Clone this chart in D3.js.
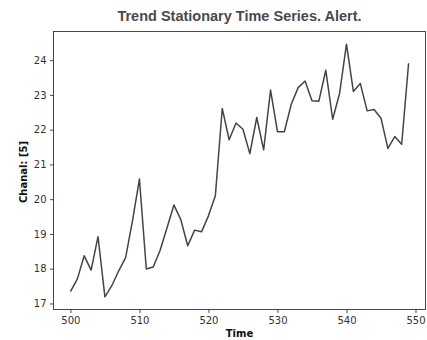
<!DOCTYPE html>
<html><head><meta charset="utf-8">
<script src="https://cdn.jsdelivr.net/npm/d3@7"></script>
<style>body{margin:0;background:#fff}svg{display:block}</style>
</head><body>
<svg id="c" width="427" height="340"></svg>
<script>
const title = "Trend Stationary Time Series. Alert.";
const xLabel = "Time";
const yLabel = "Chanal: [5]";
const times = d3.range(500, 550);
const values = [17.34,17.70,18.37,17.96,18.92,17.19,17.51,17.94,18.32,19.38,
  20.58,17.99,18.05,18.53,19.18,19.83,19.41,18.66,19.11,19.06,
  19.52,20.10,22.61,21.71,22.19,22.01,21.31,22.35,21.42,23.14,
  21.94,21.94,22.73,23.21,23.40,22.83,22.82,23.71,22.30,23.04,
  24.46,23.10,23.33,22.54,22.58,22.33,21.46,21.80,21.58,23.91];
const xTicks = [500,510,520,530,540,550];
const yTicks = [17,18,19,20,21,22,23,24];

const svg = d3.select("#c");
const L = 53.5, R = 425.5, T = 31.5, B = 309.5;
const x = d3.scaleLinear().domain([497.55, 551.45]).range([L, R]);
const y = d3.scaleLinear().domain([16.826, 24.824]).range([B, T]);

const font = "'DejaVu Sans', sans-serif";
svg.append("rect").attr("x", L).attr("y", T).attr("width", R - L).attr("height", B - T)
  .attr("fill", "none").attr("stroke", "#333").attr("stroke-width", 0.9);

const xa = svg.append("g").attr("transform", `translate(0,${B})`)
  .call(d3.axisBottom(x).tickValues(xTicks).tickSize(3.5).tickPadding(3.5).tickFormat(d3.format("d")));
const ya = svg.append("g").attr("transform", `translate(${L},0)`)
  .call(d3.axisLeft(y).tickValues(yTicks).tickSize(3.5).tickPadding(3.5).tickFormat(d3.format("d")));
[xa, ya].forEach(a => {
  a.select(".domain").remove();
  a.selectAll(".tick line").attr("stroke", "#333").attr("stroke-width", 0.9);
  a.selectAll(".tick text").attr("fill", "#333").style("font-family", font).style("font-size", "10px");
});

const line = d3.line().x((d, i) => x(times[i])).y(d => y(d));
svg.append("path").datum(values).attr("d", line)
  .attr("fill", "none").attr("stroke", "#444").attr("stroke-width", 1.5).attr("stroke-linejoin", "round");

svg.append("text").attr("x", (L + R) / 2).attr("y", 21).attr("text-anchor", "middle")
  .style("font-family", "'Liberation Sans', Arial, sans-serif").style("font-weight", "bold").style("font-size", "14.5px")
  .attr("fill", "#4a4a4a").text(title);
svg.append("text").attr("x", (L + R) / 2).attr("y", 337).attr("text-anchor", "middle")
  .style("font-family", font).style("font-weight", "bold").style("font-size", "10px")
  .attr("fill", "#111").text(xLabel);
svg.append("text").attr("transform", `translate(27,${(T + B) / 2 + 1.5}) rotate(-90)`).attr("text-anchor", "middle")
  .style("font-family", font).style("font-weight", "bold").style("font-size", "10px")
  .attr("fill", "#111").text(yLabel);
</script>
</body></html>
